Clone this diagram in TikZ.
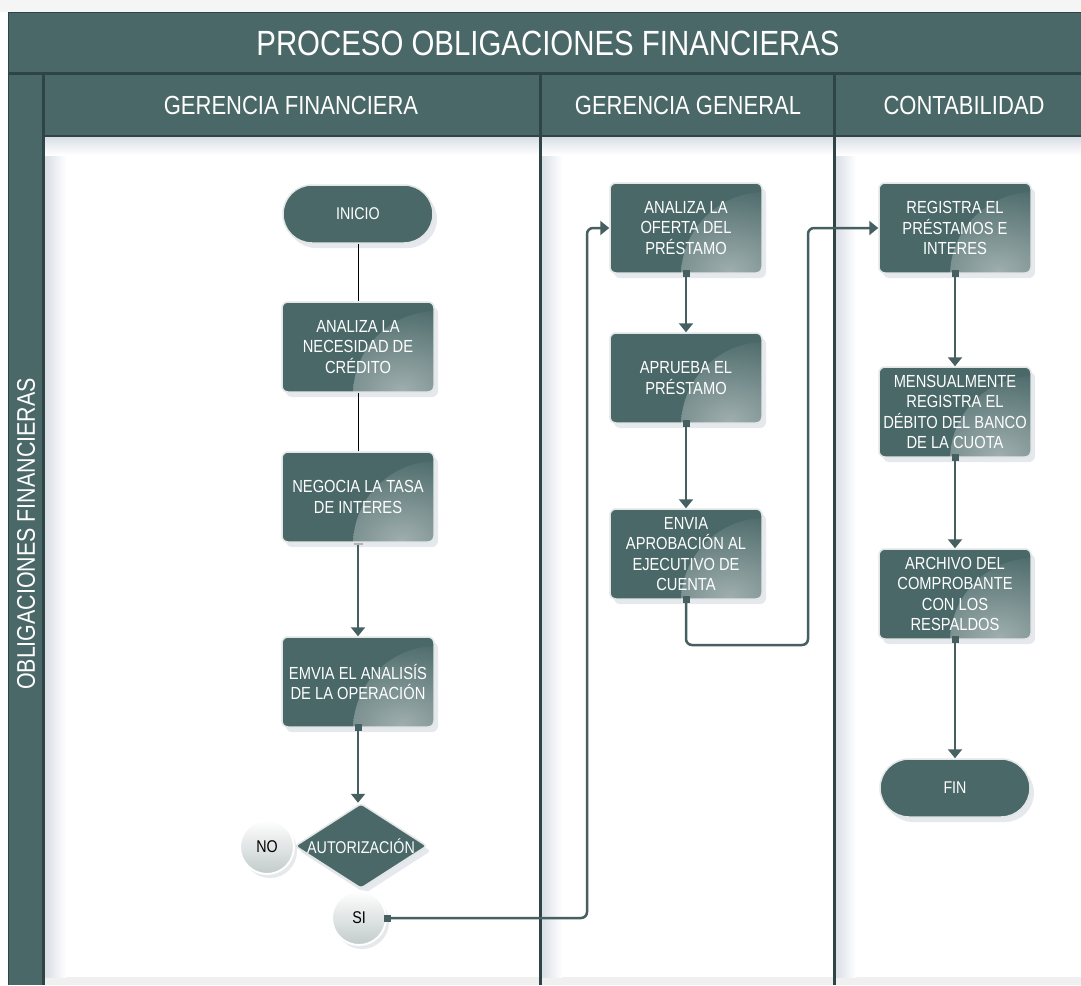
\documentclass[tikz,border=0pt]{standalone}
\usepackage{fontspec}
\setmainfont[FakeStretch=0.84]{Liberation Sans}
\usetikzlibrary{shapes.geometric,arrows.meta,shadows,calc}
\definecolor{teal1}{HTML}{4A6868}
\definecolor{tealdark}{HTML}{2F4444}
\definecolor{arrowc}{HTML}{465F60}
\definecolor{gloss}{HTML}{9FAEAE}
\definecolor{shadowc}{HTML}{9AA5B8}
\definecolor{boxborder}{HTML}{E2E6E6}
\definecolor{circgray}{HTML}{C2CACA}
\definecolor{laneshade}{HTML}{D9DEE6}
\tikzset{
  proc/.style={rectangle, rounded corners=6pt, minimum width=152pt, minimum height=90pt,
    inner sep=2pt, fill=teal1, draw=boxborder, line width=1.5pt, text=white, align=center,
    font=\fontsize{17.5}{20.5}\selectfont,
    drop shadow={shadow xshift=4pt, shadow yshift=-5pt, opacity=0.25, fill=shadowc},
    path picture={\shade[inner color=gloss, outer color=teal1]
      ($(path picture bounding box.south east)+(3,-3)$) circle (84pt);}},
  term/.style={rectangle, rounded corners=29pt, minimum width=150pt, minimum height=58pt,
    inner sep=2pt, fill=teal1, draw=boxborder, line width=1.5pt, text=white, align=center,
    font=\fontsize{17}{20.5}\selectfont,
    drop shadow={shadow xshift=4pt, shadow yshift=-5pt, opacity=0.25, fill=shadowc}},
  dec/.style={diamond, shape aspect=1.55, minimum width=132pt, minimum height=85pt,
    inner sep=0pt, fill=teal1, draw=boxborder, line width=1.5pt, text=white,
    rounded corners=3pt, font=\fontsize{17}{20.5}\selectfont,
    drop shadow={shadow xshift=4pt, shadow yshift=-5pt, opacity=0.25, fill=shadowc}},
  circ/.style={circle, minimum size=54pt, inner sep=0pt, top color=white, bottom color=circgray,
    draw=white, line width=2pt, text=black, font=\fontsize{17}{18}\selectfont,
    drop shadow={shadow xshift=3pt, shadow yshift=-4pt, opacity=0.25, fill=shadowc}},
  hdr/.style={text=white, inner sep=0pt},
  flow/.style={draw=arrowc, line width=2.5pt, rounded corners=6pt,
    {Square[length=7pt,width=7pt]}-{Triangle[length=9pt,width=14pt]}, shorten <=-3.5pt},
  plainline/.style={draw=black, line width=1pt},
}
\begin{document}
\begin{tikzpicture}[x=1pt,y=1pt]
\useasboundingbox (0,0) rectangle (1081,-985);
\fill[white] (0,0) rectangle (1081,-985);
\fill[black!4] (0,0) rectangle (1081,-12);
% frame
\fill[teal1] (8,-12) rectangle (1081,-985);
\fill[white] (45,-137) rectangle (1081,-977);
\fill[black!6] (45,-977) rectangle (1081,-985);
% lane shading
\shade[left color=laneshade, right color=white] (45,-137) rectangle (66,-977);
\shade[left color=laneshade, right color=white] (541,-137) rectangle (562,-977);
\shade[left color=laneshade, right color=white] (835,-137) rectangle (856,-977);
\shade[top color=laneshade, bottom color=white] (45,-137) rectangle (1081,-155);
% frame lines
\draw[tealdark, line width=1.5pt] (8,-12.5) -- (1081,-12.5);
\draw[tealdark, line width=1pt] (8.5,-12) -- (8.5,-985);
\draw[tealdark, line width=3pt] (8,-73.5) -- (1081,-73.5);
\draw[tealdark, line width=2.5pt] (43.5,-73) -- (43.5,-985);
\draw[tealdark, line width=2pt] (44,-136) -- (1081,-136);
\draw[tealdark, line width=3pt] (540,-75) -- (540,-985);
\draw[tealdark, line width=3pt] (834,-75) -- (834,-985);
% titles
\node[hdr, font=\fontsize{35}{38}\selectfont] (title) at (548,-43) {PROCESO OBLIGACIONES FINANCIERAS};
\node[hdr, font=\fontsize{26.2}{28}\selectfont] (h1) at (291,-105) {GERENCIA FINANCIERA};
\node[hdr, font=\fontsize{26.2}{28}\selectfont] (h2) at (688,-105) {GERENCIA GENERAL};
\node[hdr, font=\fontsize{26.2}{28}\selectfont] (h3) at (964,-105) {CONTABILIDAD};
\node[hdr, font=\fontsize{25.5}{28}\selectfont, rotate=90] (pool) at (26,-534) {OBLIGACIONES FINANCIERAS};
% nodes
\node[term] (inicio) at (358,-214) {INICIO};
\node[proc] (anec) at (358,-347) {ANALIZA LA\\NECESIDAD DE\\CRÉDITO};
\node[proc] (neg) at (358,-497) {NEGOCIA LA TASA\\DE INTERES};
\node[proc] (emv) at (358,-682) {EMVIA EL ANALISÍS\\DE LA OPERACIÓN};
\node[dec] (aut) at (361,-846) {AUTORIZACIÓN};
\node[circ] (no) at (267,-847) {NO};
\node[circ] (si) at (359,-918) {SI};
\node[proc] (ofe) at (686,-228) {ANALIZA LA\\OFERTA DEL\\PRÉSTAMO};
\node[proc] (apr) at (686,-378) {APRUEBA EL\\PRÉSTAMO};
\node[proc] (env) at (686,-554) {ENVIA\\APROBACIÓN AL\\EJECUTIVO DE\\CUENTA};
\node[proc] (reg) at (955,-228) {REGISTRA EL\\PRÉSTAMOS E\\INTERES};
\node[proc] (men) at (955,-412) {MENSUALMENTE\\REGISTRA EL\\DÉBITO DEL BANCO\\DE LA CUOTA};
\node[proc] (arc) at (955,-594) {ARCHIVO DEL\\COMPROBANTE\\CON LOS\\RESPALDOS};
\node[term] (fin) at (955,-788) {FIN};
% connectors
\coordinate (c1) at (587,-918);
\coordinate (c2) at (808,-645);
\draw[plainline] (inicio.south) -- (anec.north);
\draw[plainline] (anec.south) -- (neg.north);
\draw[flow, {Bar[width=9pt,color=black!30]}-{Triangle[length=9pt,width=14pt]}, shorten <=0pt] (neg.south) -- (emv.north);
\draw[flow] (emv.south) -- (emv.south |- aut.north);
\draw[flow] (si.east) -- (c1) |- (ofe.west);
\draw[flow] (ofe.south) -- (apr.north);
\draw[flow] (apr.south) -- (env.north);
\draw[flow] (env.south) |- (c2) |- (reg.west);
\draw[flow] (reg.south) -- (men.north);
\draw[flow] (men.south) -- (arc.north);
\draw[flow] (arc.south) -- (fin.north);
\end{tikzpicture}
\end{document}
